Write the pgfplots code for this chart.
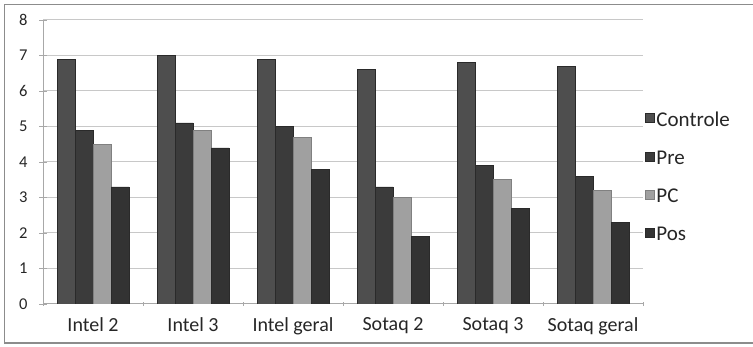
\documentclass[border=0pt]{standalone}
\usepackage{pgfplots}
\pgfplotsset{compat=1.18}
\usepackage{fontspec}
\setmainfont{Carlito}

\definecolor{cControle}{HTML}{4E4E4E}
\definecolor{cPre}{HTML}{3B3B3B}
\definecolor{cPC}{HTML}{A0A0A0}
\definecolor{cPos}{HTML}{333333}
\definecolor{barline}{HTML}{2A2A2A}
\definecolor{gridc}{HTML}{C8C8C8}
\definecolor{axisc}{HTML}{A8A8A8}
\definecolor{framec}{HTML}{8C8C8C}

\begin{document}
\begin{tikzpicture}[x=1pt,y=1pt]
\path[use as bounding box] (0,0) rectangle (753,347);
% outer frame
\draw[framec, line width=1.6pt] (760,342.5) -- (4.5,342.5) -- (4.5,4) -- (760,4);
\begin{axis}[
  at={(43pt,43pt)}, anchor=south west,
  scale only axis, width=600pt, height=284pt,
  ybar, ybar=0pt, bar width=18pt,
  xmin=-0.5, xmax=5.5, ymin=0, ymax=8,
  xtick={0,...,5},
  xticklabels={Intel 2, Intel 3, Intel geral, Sotaq 2, Sotaq 3, Sotaq geral},
  minor xtick={-0.5,0.5,...,5.5},
  major x tick style={draw=none},
  minor x tick style={axisc, line width=0.8pt},
  minor tick length=4pt,
  ytick={0,...,8},
  ymajorgrids, grid style={gridc, line width=1pt},
  y tick style={axisc, line width=0.8pt},
  major tick length=8pt,
  tick align=center,
  axis line style={axisc, line width=1pt},
  axis x line*=bottom, axis y line*=left,
  x axis line style={-}, y axis line style={-},
  /pgf/number format/assume math mode=true,
  yticklabel style={font=\fontsize{16.5}{18}\selectfont, text=black!85, xshift=-8pt},
  xticklabel style={font=\fontsize{20}{22}\selectfont, text=black!85, yshift=-6pt},
  legend style={at={(1.004,0.685)}, anchor=north west, draw=none, fill=none,
    font=\fontsize{21}{23}\selectfont, text=black!85, row sep=19pt,
    inner sep=0pt, outer sep=0pt},
  legend cell align=left,
  legend image code/.code={\fill[#1] (0pt,-3pt) rectangle (8.5pt,6pt);},
]
\addplot[fill=cControle, draw=barline, line width=0.5pt] coordinates
  {(0,6.9) (1,7.0) (2,6.9) (3,6.6) (4,6.8) (5,6.7)};
\addplot[fill=cPre, draw=barline, line width=0.5pt] coordinates
  {(0,4.9) (1,5.1) (2,5.0) (3,3.3) (4,3.9) (5,3.6)};
\addplot[fill=cPC, draw=cPC!80!black, line width=0.5pt] coordinates
  {(0,4.5) (1,4.9) (2,4.7) (3,3.0) (4,3.5) (5,3.2)};
\addplot[fill=cPos, draw=barline, line width=0.5pt] coordinates
  {(0,3.3) (1,4.4) (2,3.8) (3,1.9) (4,2.7) (5,2.3)};
\legend{Controle, Pre, PC, Pos}
\end{axis}
\end{tikzpicture}
\end{document}
